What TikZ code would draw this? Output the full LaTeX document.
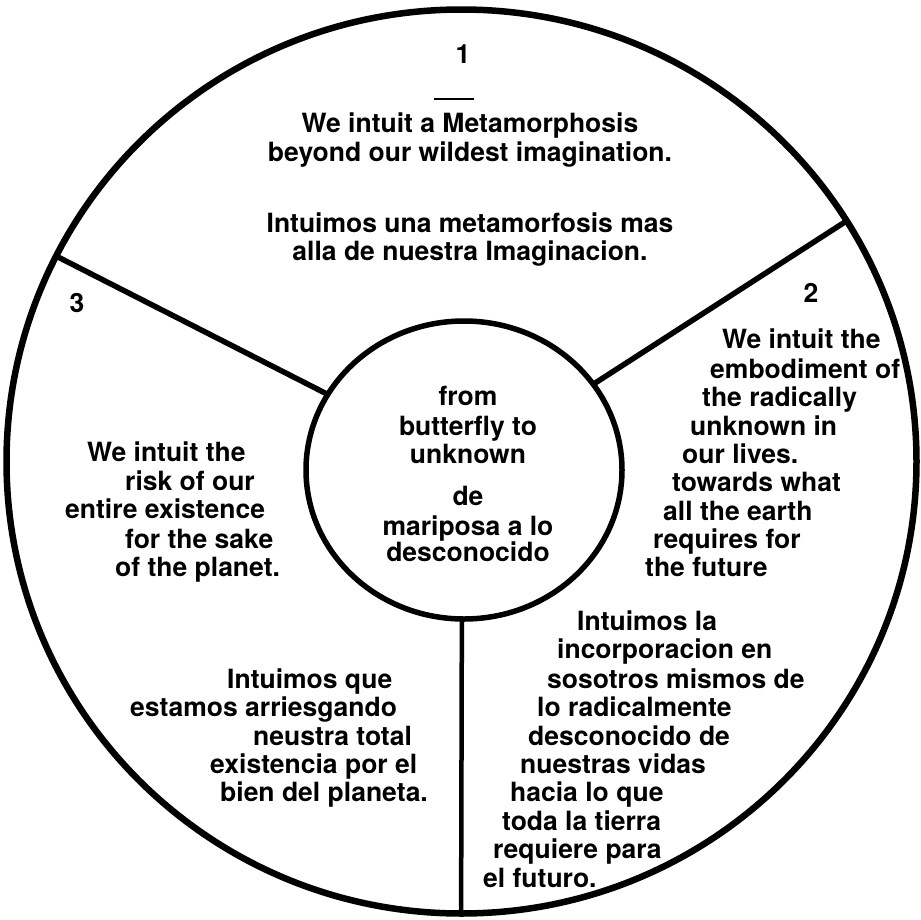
\documentclass[tikz,border=0pt]{standalone}
\usepackage{fontspec}
\setmainfont{TeX Gyre Heros}
\usetikzlibrary{intersections,calc}
\begin{document}
\begin{tikzpicture}[x=1pt,y=-1pt,
  txt/.style={font=\fontsize{26.5}{28.5}\selectfont\bfseries, inner sep=0pt, text=black},
  lft/.style={txt, anchor=base west},
  ctr/.style={txt, anchor=base},
  num/.style={txt, anchor=center},
  rim/.style={line width=6.5pt, draw=black},
  hubline/.style={line width=5.5pt, draw=black},
  divider/.style={line width=5.5pt, draw=black},
  bar/.style={line width=2pt, draw=black}]
\useasboundingbox (0,0) rectangle (921,919);
\fill[white] (0,0) rectangle (921,919);
% outer rim and hub
\draw[rim, name path=outerp] (461.5,461.5) ellipse [x radius=455, y radius=452];
\draw[hubline, name path=hubp] (464,470) ellipse [x radius=158, y radius=149];
% divider guides
\path[name path=g1] ($(60,258)!-0.2!(325,393)$) -- ($(60,258)!1.3!(325,393)$);
\path[name path=g2] ($(848,220)!-0.2!(603,378)$) -- ($(848,220)!1.3!(603,378)$);
\path[name path=g3] (462,560) -- (461,960);
\path[name intersections={of=outerp and g1, by={o1}}];
\path[name intersections={of=hubp and g1, by={h1}}];
\path[name intersections={of=outerp and g2, by={o2}}];
\path[name intersections={of=hubp and g2, by={h2}}];
\path[name intersections={of=outerp and g3, by={o3}}];
\path[name intersections={of=hubp and g3, by={h3}}];
\draw[divider] (o1) -- (h1);
\draw[divider] (o2) -- (h2);
\draw[divider, line width=4.5pt] (h3) -- (o3);
% section 1
\node[num] (n1) at (463,54) {1};
\coordinate (b1) at (434,99);
\coordinate (b2) at (474,99);
\draw[bar] (b1) -- (b2);
\node[ctr] (s1a) at (470,132) {We intuit a Metamorphosis};
\node[ctr] (s1b) at (470,161) {beyond our wildest imagination.};
\node[ctr] (s1c) at (470,232) {Intuimos una metamorfosis mas};
\node[ctr] (s1d) at (470,260) {alla de nuestra Imaginacion.};
% section 2
\node[num] (n2) at (811,293) {2};
\node[lft] (s2a) at (722,348) {We intuit the};
\node[lft] (s2b) at (710,378) {embodiment of};
\node[lft] (s2c) at (702,406) {the radically};
\node[lft] (s2d) at (690,435) {unknown in};
\node[lft] (s2e) at (682,463) {our lives.};
\node[lft] (s2f) at (672,491) {towards what};
\node[lft] (s2g) at (663,520) {all the earth};
\node[lft] (s2h) at (653,548) {requires for};
\node[lft] (s2i) at (645,576) {the future};
\node[lft] (s2j) at (577,630) {Intuimos la};
\node[lft] (s2k) at (557,658) {incorporacion en};
\node[lft] (s2l) at (547,688) {sosotros mismos de};
\node[lft] (s2m) at (537,716) {lo radicalmente};
\node[lft] (s2n) at (528,745) {desconocido de};
\node[lft] (s2o) at (520,773) {nuestras vidas};
\node[lft] (s2p) at (510,801) {hacia lo que};
\node[lft] (s2q) at (502,830) {toda la tierra};
\node[lft] (s2r) at (493,858) {requiere para};
\node[lft] (s2s) at (483,887) {el futuro.};
% section 3
\node[num] (n3) at (77,303) {3};
\node[lft] (s3a) at (87,461) {We intuit the};
\node[lft] (s3b) at (125,490) {risk of our};
\node[lft] (s3c) at (65,518) {entire existence};
\node[lft] (s3d) at (125,548) {for the sake};
\node[lft] (s3e) at (115,576) {of the planet.};
\node[lft] (s3f) at (227,688) {Intuimos que};
\node[lft] (s3g) at (130,716) {estamos arriesgando};
\node[lft] (s3h) at (253,745) {neustra total};
\node[lft] (s3i) at (210,773) {existencia por el};
\node[lft] (s3j) at (220,801) {bien del planeta.};
% hub text
\node[ctr] (c1) at (468,405) {from};
\node[ctr] (c2) at (468,435) {butterfly to};
\node[ctr] (c3) at (468,463) {unknown};
\node[ctr] (c4) at (468,505) {de};
\node[ctr] (c5) at (468,535) {mariposa a lo};
\node[ctr] (c6) at (468,561) {desconocido};
\end{tikzpicture}
\end{document}
